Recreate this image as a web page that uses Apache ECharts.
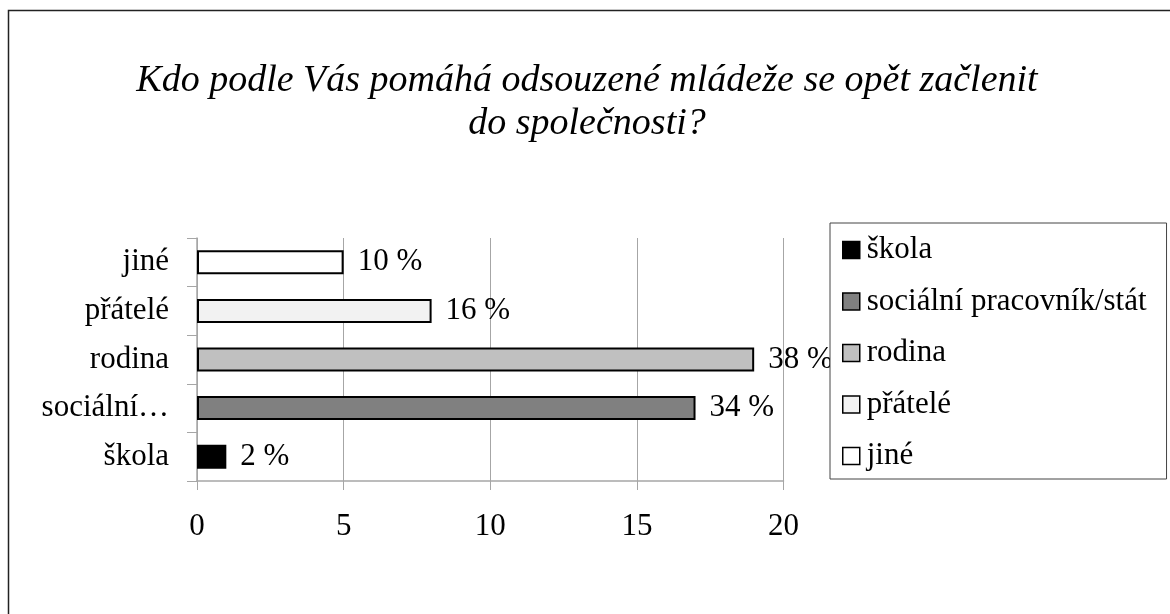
<!DOCTYPE html>
<html>
<head>
<meta charset="utf-8">
<script src="https://cdn.jsdelivr.net/npm/echarts@6/dist/echarts.min.js"></script>
<style>
  html, body { margin: 0; padding: 0; background: #fff; }
  #chart { width: 1170px; height: 614px; }
</style>
</head>
<body>
<div id="chart"></div>
<script>
// data
const categories = ["škola", "sociální pracovník/stát", "rodina", "přátelé", "jiné"]
const tickLabels = ["škola", "sociální…", "rodina", "přátelé", "jiné"]
const values = [1, 17, 19, 8, 5]
const percentLabels = ["2 %", "34 %", "38 %", "16 %", "10 %"]
const colors = ["#000000", "#808080", "#c0c0c0", "#f2f2f2", "#ffffff"]
const xTicks = [0, 5, 10, 15, 20]

const serif = "'Liberation Serif', 'DejaVu Serif', serif"
const fs = 31

const series = categories.map((name, i) => ({
  name: name,
  type: "bar",
  stack: "one",
  barWidth: 24,
  itemStyle: {
    color: colors[i],
    borderColor: "#000",
    borderWidth: 2
  },
  label: {
    show: true,
    position: "right",
    distance: 14,
    color: "#000",
    fontFamily: serif,
    fontSize: fs,
    formatter: () => percentLabels[i]
  },
  data: categories.map((c, j) => (j === i ? values[i] : "-"))
}))

const chart = echarts.init(document.getElementById("chart"))
chart.setOption({
  animation: false,
  graphic: [{
    type: "rect",
    silent: true,
    shape: { x: 8.5, y: 10.5, width: 1300, height: 800 },
    style: { fill: "none", stroke: "#222", lineWidth: 1.5 },
    z: -1
  }],
  title: {
    text: "Kdo podle Vás pomáhá odsouzené mládeže se opět začlenit\ndo společnosti?",
    left: 582,
    top: 55,
    textAlign: "center",
    textStyle: {
      fontFamily: serif,
      fontStyle: "italic",
      fontWeight: "normal",
      fontSize: 38,
      lineHeight: 43,
      color: "#000",
      align: "center"
    }
  },
  legend: {
    orient: "vertical",
    left: 830,
    top: 223,
    padding: [10, 20, 6, 12],
    itemGap: 17.5,
    itemWidth: 17,
    itemHeight: 17,
    icon: "rect",
    backgroundColor: "#fff",
    borderColor: "#444",
    borderWidth: 1,
    itemStyle: { borderWidth: 1.5, borderColor: "#000" },
    textStyle: {
      fontFamily: serif,
      fontSize: fs,
      lineHeight: 34,
      color: "#000",
      padding: [0, 0, 0, 2]
    },
    data: categories
  },
  grid: {
    left: 197,
    right: 386.5,
    top: 238,
    bottom: 133,
    containLabel: false
  },
  xAxis: {
    type: "value",
    min: xTicks[0],
    max: xTicks[xTicks.length - 1],
    interval: 5,
    axisLine: { show: true, lineStyle: { color: "#a6a6a6", width: 1.5 } },
    axisTick: { show: true, length: 9, lineStyle: { color: "#a6a6a6" } },
    splitLine: { show: true, lineStyle: { color: "#a6a6a6", width: 1 } },
    axisLabel: {
      margin: 30,
      color: "#000",
      fontFamily: serif,
      fontSize: fs
    }
  },
  yAxis: {
    type: "category",
    data: categories,
    axisLine: { show: true, lineStyle: { color: "#a6a6a6", width: 1.5 } },
    axisTick: { show: true, length: 10, lineStyle: { color: "#a6a6a6" } },
    axisLabel: {
      margin: 28,
      color: "#000",
      fontFamily: serif,
      fontSize: fs,
      formatter: (v, idx) => tickLabels[idx]
    }
  },
  series: series
})
</script>
</body>
</html>
